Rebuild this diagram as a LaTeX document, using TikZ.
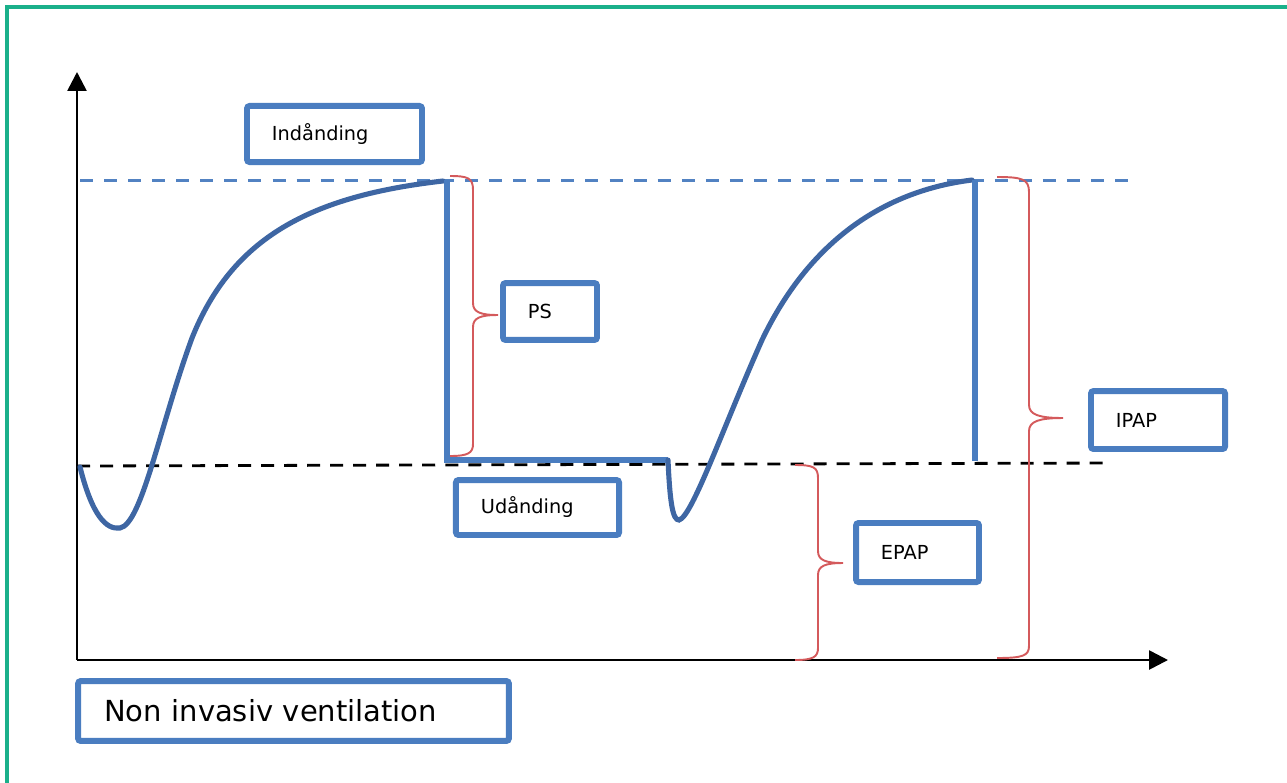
\documentclass[tikz,border=0pt]{standalone}
\usepackage{fontspec}
\setmainfont{DejaVu Sans}
\usetikzlibrary{arrows.meta}
\definecolor{frameg}{HTML}{1AB08A}
\definecolor{boxblue}{HTML}{4A7DC0}
\definecolor{curveblue}{HTML}{3E66A3}
\definecolor{dashblue}{HTML}{5282C2}
\definecolor{bracered}{HTML}{D45A5C}
\tikzset{
  lblbox/.style={draw=boxblue, line width=3.4pt, rounded corners=1.5pt, fill=white,
    inner xsep=0pt, inner ysep=0pt, align=left, font=\fontsize{11}{13}\selectfont},
  axisline/.style={line width=1.5pt, -{Triangle[length=10.8pt,width=10.8pt]}},
  bracestyle/.style={draw=bracered, line width=1.1pt},
  wave/.style={draw=curveblue, line width=2.9pt, line cap=round},
  plateau/.style={draw=boxblue, line width=3pt},
}
\begin{document}
\begin{tikzpicture}[x=0.02cm,y=-0.02cm]
\useasboundingbox (0,0) rectangle (1287,782);
% frame
\draw[frameg, line width=2.2pt] (7,800) -- (7,7) -- (1300,7);
% reference levels
\draw[dashblue, line width=1.7pt, dash pattern=on 7.4pt off 6.3pt] (80,180) -- (1128,180);
\draw[black, line width=1.6pt, dash pattern=on 7.4pt off 5.7pt] (77,466) -- (1112,463);
% axes
\coordinate (O) at (77,660);
\coordinate (ytip) at (77,72);
\coordinate (xtip) at (1168,660);
\draw[axisline] (O) -- (ytip);
\draw[axisline] (O) -- (xtip);
% waveform
\draw[wave] (80,467) .. controls (92,515) and (106,530) .. (120,528)
  .. controls (142,524) and (160,425) .. (192,338)
  .. controls (232,238) and (310,196) .. (443,181);
\draw[plateau] (447,180) -- (447,460) -- (668,460);
\draw[wave] (668,460) .. controls (670,505) and (673,520) .. (679,520)
  .. controls (692,517) and (722,430) .. (762,340)
  .. controls (805,250) and (875,192) .. (972,180);
\draw[plateau] (975,180) -- (975,461);
% braces
\draw[bracestyle] (450,176) .. controls (468,176) and (473,178) .. (473,190)
  -- (473,303) .. controls (473,312) and (480,315) .. (498,315)
  .. controls (480,315) and (473,318) .. (473,327)
  -- (473,444) .. controls (473,453) and (468,456) .. (450,456);
\draw[bracestyle] (795,465) .. controls (813,465) and (818,467) .. (818,478)
  -- (818,551) .. controls (818,560) and (825,563) .. (843,563)
  .. controls (825,563) and (818,566) .. (818,575)
  -- (818,648) .. controls (818,657) and (813,660) .. (795,660);
\draw[bracestyle] (997,177) .. controls (1022,177) and (1029,179) .. (1029,192)
  -- (1029,405) .. controls (1029,415) and (1040,418) .. (1063,418)
  .. controls (1040,418) and (1029,421) .. (1029,431)
  -- (1029,646) .. controls (1029,656) and (1022,658) .. (997,658);
% labels
\node[lblbox, minimum width=99.6pt, minimum height=31.9pt, text width=71.2pt] (ind) at (334.5,134) {Indånding};
\node[lblbox, minimum width=53.5pt, minimum height=32.4pt, text width=25.1pt] (ps) at (550,311.5) {PS};
\node[lblbox, minimum width=92.8pt, minimum height=31.3pt, text width=64.4pt] (ud) at (537.5,507.5) {Udånding};
\node[lblbox, minimum width=70pt, minimum height=33.6pt, text width=41.6pt] (epap) at (917.5,552.5) {EPAP};
\node[lblbox, minimum width=76.3pt, minimum height=33pt, text width=47.9pt] (ipap) at (1158,420) {IPAP};
\node[lblbox, minimum width=245.2pt, minimum height=34.1pt, text width=215.6pt, font=\fontsize{16.5}{19}\selectfont] (niv) at (293.5,711) {Non invasiv ventilation};
\end{tikzpicture}
\end{document}
